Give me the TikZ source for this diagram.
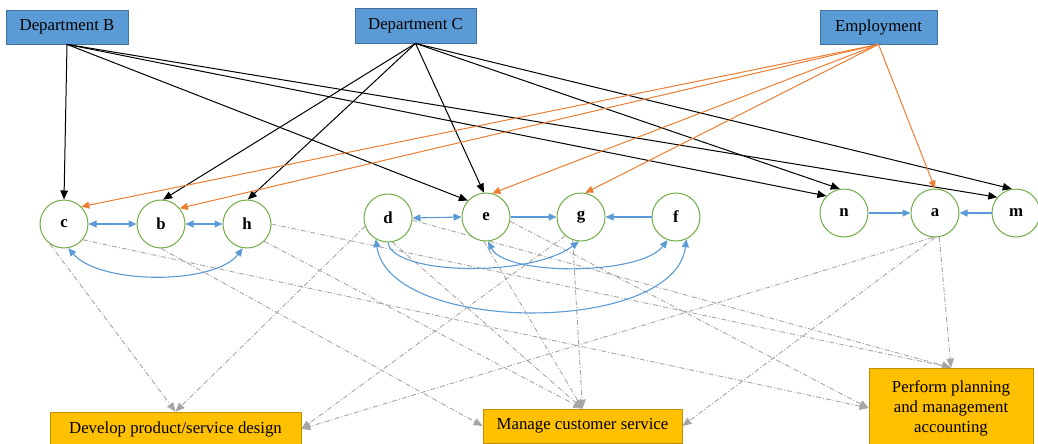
\documentclass[tikz,border=0pt]{standalone}
\usepackage{fontspec}
\setmainfont{Liberation Serif}
\usetikzlibrary{arrows.meta,backgrounds}
\definecolor{deptfill}{HTML}{5B9BD5}
\definecolor{deptdraw}{HTML}{41719C}
\definecolor{actfill}{HTML}{FFC000}
\definecolor{actdraw}{HTML}{BF9000}
\definecolor{circdraw}{HTML}{70AD47}
\definecolor{orangec}{HTML}{ED7D31}
\definecolor{bluec}{HTML}{5B9BD5}
\definecolor{greyc}{HTML}{A6A6A6}
\begin{document}
\begin{tikzpicture}[x=1pt,y=-1pt,
  every node/.style={font=\fontsize{16.8}{20}\selectfont},
  dept/.style={draw=deptdraw,fill=deptfill,line width=0.8pt,inner sep=0pt},
  act/.style={draw=actdraw,fill=actfill,line width=0.8pt,inner sep=0pt,align=center},
  circ/.style={circle,draw=circdraw,fill=white,line width=1pt,minimum size=48pt,inner sep=0pt,font=\fontsize{16.8}{20}\selectfont\bfseries},
  blk/.style={draw=black,line width=1pt,-{Triangle[length=9pt,width=7.5pt]}},
  org/.style={draw=orangec,line width=1pt,-{Triangle[length=8pt,width=7pt]}},
  blu/.style={draw=bluec,line width=1.1pt,-{Triangle[length=8pt,width=7pt]}},
  bblu/.style={draw=bluec,line width=1.1pt,{Triangle[length=8pt,width=7pt]}-{Triangle[length=8pt,width=7pt]}},
  gry/.style={draw=greyc,line width=0.9pt,dash pattern=on 5pt off 2pt on 1pt off 2pt,-{Triangle[length=9pt,width=7.5pt]}}
]
\useasboundingbox (0,0) rectangle (1038,444);
\clip (0,0) rectangle (1038,444);

% top boxes
\node[dept,minimum width=122pt,minimum height=34pt] (depB) at (67,27) {Department B};
\node[dept,minimum width=121pt,minimum height=35pt] (depC) at (415.5,25.5) {Department C};
\node[dept,minimum width=117pt,minimum height=34pt] (emp) at (878.5,27) {Employment};

% bottom boxes
\node[act,minimum width=251pt,minimum height=34pt] (dev) at (175.5,429) {Develop product/service design};
\node[act,minimum width=199pt,minimum height=34pt] (man) at (582.5,426) {Manage customer service};
\node[act,minimum width=164pt,minimum height=80pt] (per) at (951,408) {Perform planning\\and management\\accounting};

% circles
\node[circ] (c) at (64,224) {c};
\node[circ] (b) at (161,224) {b};
\node[circ] (h) at (247,224) {h};
\node[circ] (d) at (388,218) {d};
\node[circ] (e) at (486,217) {e};
\node[circ] (g) at (581,217) {g};
\node[circ] (f) at (676,217) {f};
\node[circ] (n) at (844,213) {n};
\node[circ] (a) at (935,213) {a};
\node[circ] (m) at (1016,213) {m};

% grey dash-dot connectors (behind)
\begin{pgfonlayer}{background}
\draw[gry] (c.-125) -- (dev.north);
\draw[gry] (d.200) -- (dev.north);
\draw[gry] (c.-40) -- (per.west);
\draw[gry] (b.-90) -- (man.west);
\draw[gry] (h.0) -- (per.north);
\draw[gry] (h.-45) -- (man.north);
\draw[gry] (g.-130) -- (dev.east);
\draw[gry] (a.-95) -- (dev.east);
\draw[gry] (a.-90) -- (man.east);
\draw[gry] (a.-80) -- (per.north);
\draw[gry] (e.-95) -- (man.north);
\draw[gry] (g.-110) -- (man.north);
\draw[gry] (d.-80) -- (man.north);
\draw[gry] (e.-10) -- (per.west);
\draw[gry] (d.-5) -- (per.north);
\end{pgfonlayer}

% black arrows
\draw[blk] (depB.south) -- (c.north);
\draw[blk] (depB.south) -- (e.138);
\draw[blk] (depB.south) -- (n.136);
\draw[blk] (depB.south) -- (m.140);
\draw[blk] (depC.south) -- (b.85);
\draw[blk] (depC.south) -- (h.88);
\draw[blk] (depC.south) -- (e.95);
\draw[blk] (depC.south) -- (n.100);
\draw[blk] (depC.south) -- (m.100);

% orange arrows
\draw[org] (emp.south) -- (c.45);
\draw[org] (emp.south) -- (b.40);
\draw[org] (emp.south) -- (e.75);
\draw[org] (emp.south) -- (g.80);
\draw[org] (emp.south) -- (a.north);

% blue arrows
\draw[bblu] (c.east) -- (b.west);
\draw[bblu] (b.east) -- (h.west);
\draw[bblu] (c.-80) .. controls (100,285) and (215,285) .. (h.-100);
\draw[bblu] (d.east) -- (e.west);
\draw[blu] (e.east) -- (g.west);
\draw[blu] (f.west) -- (g.east);
\draw[blu] (d.-90) .. controls (392,275) and (530,278) .. (g.-95);
\draw[bblu] (e.-85) .. controls (505,276) and (640,276) .. (f.-110);
\draw[bblu] (d.-120) .. controls (390,335) and (675,335) .. (f.-65);
\draw[blu] (n.east) -- (a.west);
\draw[blu] (m.west) -- (a.east);
\end{tikzpicture}
\end{document}
